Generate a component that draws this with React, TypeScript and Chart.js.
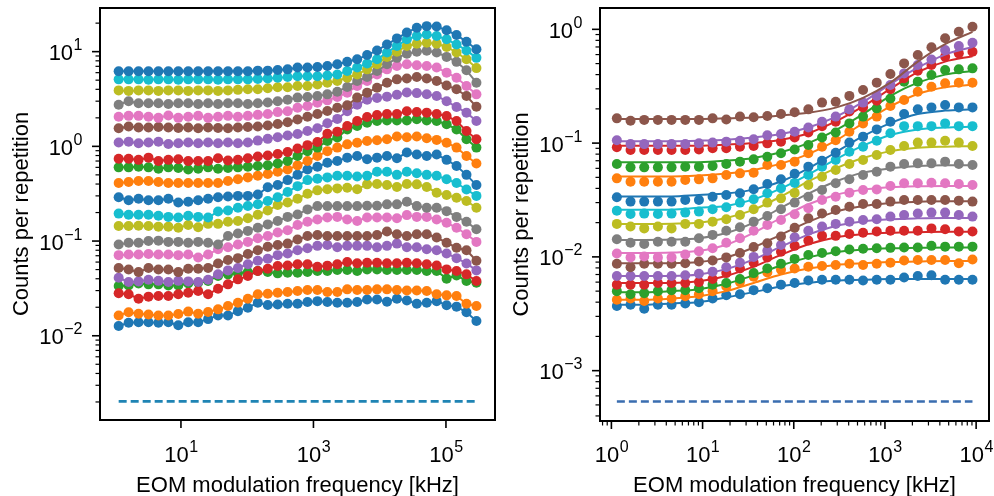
import React, { useEffect, useRef } from 'react';
import { Chart, registerables } from 'chart.js';

Chart.register(...registerables);

// ---------------- DATA ----------------
const TAB10 = ['#1f77b4', '#ff7f0e', '#2ca02c', '#d62728', '#9467bd', '#8c564b', '#e377c2', '#7f7f7f', '#bcbd22', '#17becf'];

// EOM modulation frequencies [kHz]
const freqs = [1.148, 1.622, 2.291, 3.236, 4.571, 6.457, 9.120, 12.88, 18.20, 25.70, 36.31, 51.29, 72.44, 102.3, 144.5, 204.2, 288.4, 407.4, 575.4, 812.8, 1148, 1622, 2291, 3236, 4571, 6457, 9120, 12882, 18197, 25704, 36308, 51286, 72444, 102329, 144544, 204174, 288403];
const fitFreqs = [1.148, 2.291, 4.571, 9.120, 18.20, 36.31, 72.44, 144.5, 288.4, 575.4, 1148, 2291, 4571, 9120];

// Left panel series (bottom to top)
const left00 = [0.0127, 0.0137, 0.0139, 0.0139, 0.0137, 0.0139, 0.0129, 0.0139, 0.0139, 0.0150, 0.0164, 0.0164, 0.0182, 0.0198, 0.0223, 0.0211, 0.0214, 0.0218, 0.0218, 0.0227, 0.0232, 0.0227, 0.0223, 0.0223, 0.0227, 0.0242, 0.0242, 0.0229, 0.0246, 0.0236, 0.0218, 0.0223, 0.0232, 0.0210, 0.0203, 0.0177, 0.0143];
const left01 = [0.0164, 0.0177, 0.0171, 0.0168, 0.0164, 0.0164, 0.0170, 0.0180, 0.0171, 0.0178, 0.0190, 0.0206, 0.0223, 0.0246, 0.0274, 0.0278, 0.0285, 0.0290, 0.0297, 0.0304, 0.0304, 0.0290, 0.0290, 0.0309, 0.0304, 0.0304, 0.0309, 0.0309, 0.0304, 0.0301, 0.0301, 0.0297, 0.0274, 0.0267, 0.0263, 0.0218, 0.0206];
const left02 = [0.0335, 0.0340, 0.0357, 0.0349, 0.0349, 0.0340, 0.0340, 0.0357, 0.0363, 0.0379, 0.0428, 0.0445, 0.0456, 0.0471, 0.0483, 0.0471, 0.0456, 0.0463, 0.0463, 0.0471, 0.0483, 0.0483, 0.0494, 0.0494, 0.0483, 0.0502, 0.0502, 0.0494, 0.0494, 0.0494, 0.0494, 0.0483, 0.0483, 0.0401, 0.0434, 0.0379, 0.0363];
const left03 = [0.0281, 0.0274, 0.0246, 0.0259, 0.0263, 0.0263, 0.0274, 0.0285, 0.0297, 0.0274, 0.0314, 0.0349, 0.0394, 0.0428, 0.0483, 0.0510, 0.0545, 0.0553, 0.0568, 0.0568, 0.0535, 0.0550, 0.0568, 0.0600, 0.0582, 0.0591, 0.0591, 0.0582, 0.0582, 0.0591, 0.0582, 0.0568, 0.0553, 0.0502, 0.0483, 0.0445, 0.0379];
const left04 = [0.041, 0.037, 0.0375, 0.039, 0.038, 0.037, 0.038, 0.0375, 0.037, 0.039, 0.0445, 0.049, 0.052, 0.057, 0.062, 0.065, 0.071, 0.074, 0.080, 0.084, 0.089, 0.091, 0.086, 0.089, 0.089, 0.089, 0.086, 0.089, 0.094, 0.086, 0.086, 0.082, 0.080, 0.074, 0.066, 0.058, 0.049];
const left05 = [0.052, 0.050, 0.047, 0.052, 0.050, 0.050, 0.047, 0.051, 0.051, 0.052, 0.058, 0.063, 0.066, 0.073, 0.080, 0.087, 0.091, 0.094, 0.104, 0.113, 0.116, 0.113, 0.113, 0.113, 0.113, 0.113, 0.116, 0.126, 0.118, 0.113, 0.118, 0.118, 0.109, 0.096, 0.085, 0.080, 0.062];
const left06 = [0.071, 0.072, 0.072, 0.073, 0.072, 0.072, 0.071, 0.072, 0.067, 0.072, 0.082, 0.086, 0.092, 0.098, 0.107, 0.113, 0.123, 0.130, 0.148, 0.160, 0.169, 0.177, 0.180, 0.169, 0.163, 0.177, 0.177, 0.177, 0.174, 0.188, 0.180, 0.180, 0.169, 0.156, 0.138, 0.118, 0.098];
const left07 = [0.092, 0.096, 0.096, 0.100, 0.101, 0.098, 0.098, 0.096, 0.098, 0.096, 0.092, 0.113, 0.120, 0.128, 0.138, 0.150, 0.163, 0.180, 0.191, 0.216, 0.234, 0.234, 0.234, 0.234, 0.234, 0.236, 0.236, 0.244, 0.244, 0.260, 0.234, 0.225, 0.225, 0.207, 0.180, 0.160, 0.133];
const left08 = [0.144, 0.144, 0.145, 0.144, 0.142, 0.142, 0.138, 0.148, 0.140, 0.152, 0.152, 0.160, 0.163, 0.174, 0.190, 0.210, 0.240, 0.255, 0.280, 0.316, 0.343, 0.352, 0.360, 0.366, 0.352, 0.397, 0.400, 0.390, 0.372, 0.400, 0.397, 0.372, 0.324, 0.306, 0.287, 0.265, 0.225];
const left09 = [0.195, 0.190, 0.190, 0.190, 0.185, 0.180, 0.177, 0.185, 0.180, 0.177, 0.205, 0.210, 0.225, 0.235, 0.245, 0.265, 0.290, 0.330, 0.380, 0.440, 0.455, 0.470, 0.490, 0.490, 0.480, 0.490, 0.540, 0.540, 0.500, 0.540, 0.520, 0.500, 0.490, 0.450, 0.410, 0.350, 0.300];
const left10 = [0.29, 0.27, 0.28, 0.27, 0.27, 0.28, 0.255, 0.26, 0.27, 0.28, 0.29, 0.295, 0.30, 0.30, 0.31, 0.37, 0.39, 0.44, 0.50, 0.57, 0.61, 0.67, 0.70, 0.76, 0.79, 0.73, 0.76, 0.79, 0.75, 0.86, 0.82, 0.79, 0.82, 0.72, 0.62, 0.50, 0.39];
const left11 = [0.41, 0.42, 0.43, 0.43, 0.42, 0.41, 0.41, 0.41, 0.41, 0.41, 0.41, 0.43, 0.45, 0.47, 0.49, 0.51, 0.54, 0.57, 0.63, 0.70, 0.79, 0.89, 0.97, 1.05, 1.09, 1.14, 1.16, 1.19, 1.27, 1.25, 1.27, 1.22, 1.17, 1.09, 0.97, 0.79, 0.66];
const left12 = [0.60, 0.60, 0.61, 0.60, 0.58, 0.60, 0.59, 0.57, 0.58, 0.60, 0.58, 0.59, 0.60, 0.61, 0.62, 0.63, 0.66, 0.70, 0.79, 0.89, 0.97, 1.14, 1.24, 1.51, 1.64, 1.78, 1.85, 1.88, 1.88, 1.88, 1.93, 1.88, 1.85, 1.71, 1.51, 1.19, 0.97];
const left13 = [0.74, 0.74, 0.72, 0.76, 0.70, 0.72, 0.73, 0.70, 0.70, 0.70, 0.75, 0.71, 0.72, 0.75, 0.78, 0.80, 0.83, 0.87, 0.95, 1.03, 1.11, 1.36, 1.43, 1.64, 1.85, 2.04, 2.14, 2.20, 2.20, 2.35, 2.30, 2.27, 2.20, 2.09, 1.85, 1.45, 1.19];
const left14 = [1.10, 1.12, 1.08, 1.10, 1.12, 1.06, 1.08, 1.10, 1.08, 1.10, 1.08, 1.10, 1.08, 1.10, 1.15, 1.20, 1.25, 1.30, 1.35, 1.45, 1.55, 1.75, 1.95, 2.35, 2.75, 3.10, 3.25, 3.35, 3.50, 3.70, 3.65, 3.55, 3.40, 3.00, 2.60, 2.27, 1.85];
const left15 = [1.55, 1.62, 1.58, 1.58, 1.60, 1.58, 1.56, 1.58, 1.55, 1.58, 1.56, 1.55, 1.58, 1.60, 1.62, 1.66, 1.72, 1.80, 1.92, 2.05, 2.20, 2.36, 2.56, 2.71, 3.27, 3.69, 4.16, 4.70, 5.10, 5.20, 5.40, 5.20, 4.90, 4.40, 4.00, 3.40, 2.62];
const left16 = [2.05, 2.10, 2.10, 2.05, 2.00, 2.12, 2.00, 2.05, 2.10, 2.00, 2.05, 2.10, 2.05, 2.10, 2.15, 2.20, 2.30, 2.35, 2.56, 2.67, 2.89, 3.06, 3.32, 3.69, 4.34, 4.90, 5.75, 6.50, 7.05, 7.35, 7.20, 7.05, 6.80, 6.00, 5.30, 4.34, 3.54];
const left17 = [2.75, 3.00, 2.85, 2.85, 2.85, 2.80, 2.85, 2.85, 2.80, 2.85, 2.80, 2.85, 2.85, 2.80, 2.85, 2.90, 3.00, 3.10, 3.27, 3.32, 3.40, 3.54, 3.78, 4.24, 4.90, 5.40, 6.25, 7.35, 8.60, 9.50, 10.0, 10.2, 9.80, 8.80, 7.80, 6.35, 4.70];
const left18 = [3.90, 3.85, 3.90, 3.90, 3.85, 3.90, 3.90, 3.85, 3.90, 3.90, 3.85, 3.90, 3.95, 4.00, 4.00, 4.10, 4.20, 4.20, 4.34, 4.34, 4.50, 4.70, 4.90, 5.30, 5.75, 6.50, 7.35, 8.80, 10.0, 11.5, 12.1, 12.4, 12.1, 11.2, 9.80, 8.30, 6.70];
const left19 = [5.10, 5.10, 5.10, 5.05, 5.10, 5.10, 5.05, 5.10, 5.10, 5.10, 5.05, 5.10, 5.10, 5.10, 5.15, 5.20, 5.30, 5.40, 5.50, 5.50, 5.50, 5.60, 5.75, 6.25, 6.80, 7.50, 8.30, 9.80, 11.5, 13.5, 14.6, 15.2, 14.6, 13.5, 11.9, 10.3, 8.60];
const left20 = [6.20, 6.20, 6.20, 6.20, 6.20, 6.20, 6.20, 6.20, 6.20, 6.20, 6.20, 6.20, 6.20, 6.20, 6.30, 6.30, 6.40, 6.50, 6.80, 6.80, 6.90, 7.05, 7.35, 7.80, 8.30, 9.20, 10.3, 11.9, 13.8, 15.9, 17.9, 18.6, 18.4, 16.8, 15.0, 12.7, 10.6];
const leftBackground = 2.03e-3;

// Right panel series (bottom to top), first 27 frequencies
const right00 = [0.0037, 0.0038, 0.0035, 0.0038, 0.0038, 0.0039, 0.0040, 0.0043, 0.0046, 0.0047, 0.0051, 0.0053, 0.0057, 0.0059, 0.0062, 0.0063, 0.0063, 0.0063, 0.0062, 0.0063, 0.0063, 0.0066, 0.0068, 0.0069, 0.0063, 0.0063, 0.0063];
const right01 = [0.0042, 0.0043, 0.0041, 0.0043, 0.0043, 0.0045, 0.0047, 0.0050, 0.0055, 0.0060, 0.0067, 0.0073, 0.0077, 0.0079, 0.0082, 0.0083, 0.0085, 0.0087, 0.0085, 0.0087, 0.0089, 0.0093, 0.0094, 0.0094, 0.0094, 0.0088, 0.0095];
const right02 = [0.0050, 0.0047, 0.0048, 0.0050, 0.0051, 0.0051, 0.0053, 0.0057, 0.0059, 0.0064, 0.0072, 0.0079, 0.0087, 0.0096, 0.0104, 0.0108, 0.0112, 0.0116, 0.0118, 0.0119, 0.0120, 0.0121, 0.0121, 0.0125, 0.0123, 0.0123, 0.0123];
const right03 = [0.0057, 0.0057, 0.0057, 0.0059, 0.0059, 0.0059, 0.0060, 0.0064, 0.0072, 0.0079, 0.0089, 0.0099, 0.0111, 0.0125, 0.0139, 0.0153, 0.0153, 0.0159, 0.0163, 0.0167, 0.0170, 0.0170, 0.0170, 0.0178, 0.0175, 0.0167, 0.0167];
const right04 = [0.0068, 0.0068, 0.0068, 0.0068, 0.0068, 0.0069, 0.0071, 0.0074, 0.0081, 0.0089, 0.0100, 0.0113, 0.0127, 0.0149, 0.0170, 0.0185, 0.0195, 0.0204, 0.0211, 0.0214, 0.0226, 0.0233, 0.0241, 0.0245, 0.0245, 0.0233, 0.0226];
const right05 = [0.0087, 0.0081, 0.0087, 0.0087, 0.0087, 0.0088, 0.0091, 0.0093, 0.0099, 0.0108, 0.0122, 0.0132, 0.0151, 0.0180, 0.0218, 0.0241, 0.0258, 0.0276, 0.0292, 0.0292, 0.0306, 0.0316, 0.0316, 0.0316, 0.0316, 0.0312, 0.0306];
const right06 = [0.0107, 0.0099, 0.0101, 0.0099, 0.0099, 0.0105, 0.0112, 0.0119, 0.0133, 0.0146, 0.0170, 0.0191, 0.0211, 0.0237, 0.0268, 0.0316, 0.0338, 0.0367, 0.0387, 0.0392, 0.0420, 0.0443, 0.0443, 0.0449, 0.0443, 0.0437, 0.0428];
const right07 = [0.0143, 0.0133, 0.0130, 0.0136, 0.0136, 0.0136, 0.0146, 0.0156, 0.0170, 0.0182, 0.0204, 0.0229, 0.0262, 0.0300, 0.0338, 0.0387, 0.0443, 0.0481, 0.0524, 0.0561, 0.0621, 0.0655, 0.0664, 0.0664, 0.0687, 0.0655, 0.0642];
const right08 = [0.0195, 0.0185, 0.0178, 0.0185, 0.0178, 0.0195, 0.0195, 0.0204, 0.0214, 0.0233, 0.0262, 0.0300, 0.0327, 0.0365, 0.0429, 0.0507, 0.0580, 0.0655, 0.0711, 0.0786, 0.0870, 0.0944, 0.1010, 0.1010, 0.1050, 0.1010, 0.0944];
const right09 = [0.0255, 0.0238, 0.0240, 0.0238, 0.0240, 0.0245, 0.0250, 0.0262, 0.0273, 0.0300, 0.0321, 0.0362, 0.0401, 0.0447, 0.0524, 0.0621, 0.0711, 0.0841, 0.0930, 0.105, 0.122, 0.141, 0.141, 0.141, 0.149, 0.141, 0.141];
const right10 = [0.0334, 0.0306, 0.0306, 0.0306, 0.0306, 0.0316, 0.0316, 0.0338, 0.0350, 0.0362, 0.0393, 0.0437, 0.0481, 0.0538, 0.0621, 0.0701, 0.0824, 0.101, 0.114, 0.132, 0.154, 0.180, 0.198, 0.206, 0.216, 0.206, 0.206];
const right11 = [0.0490, 0.0458, 0.0458, 0.0458, 0.0458, 0.0474, 0.0480, 0.0490, 0.0524, 0.0542, 0.0550, 0.0642, 0.0642, 0.0687, 0.0813, 0.0930, 0.106, 0.126, 0.149, 0.171, 0.212, 0.239, 0.283, 0.313, 0.335, 0.339, 0.339];
const right12 = [0.0655, 0.0612, 0.0612, 0.0612, 0.0612, 0.0620, 0.0620, 0.0630, 0.0655, 0.0687, 0.0720, 0.0760, 0.0813, 0.0878, 0.0962, 0.112, 0.124, 0.149, 0.171, 0.202, 0.247, 0.347, 0.347, 0.397, 0.439, 0.445, 0.454];
const right13 = [0.0918, 0.0870, 0.0870, 0.0870, 0.0870, 0.0870, 0.0880, 0.0900, 0.0900, 0.0930, 0.0945, 0.0995, 0.103, 0.112, 0.124, 0.141, 0.154, 0.190, 0.206, 0.236, 0.297, 0.371, 0.433, 0.485, 0.574, 0.615, 0.636];
const right14 = [0.106, 0.098, 0.098, 0.098, 0.098, 0.098, 0.0995, 0.101, 0.103, 0.105, 0.108, 0.117, 0.120, 0.126, 0.137, 0.154, 0.171, 0.198, 0.227, 0.260, 0.324, 0.410, 0.485, 0.544, 0.658, 0.713, 0.763];
const right15 = [0.165, 0.157, 0.160, 0.160, 0.160, 0.160, 0.160, 0.165, 0.161, 0.171, 0.169, 0.173, 0.180, 0.187, 0.198, 0.227, 0.231, 0.260, 0.293, 0.340, 0.405, 0.502, 0.594, 0.695, 0.834, 0.953, 1.055];
const rightBackground = 5.35e-4;

// Right panel fitted curves (at fitFreqs)
const fit00 = [0.0038, 0.0038, 0.0039, 0.0040, 0.0044, 0.0049, 0.0055, 0.0059, 0.0062, 0.0063, 0.0064, 0.0064, 0.0064, 0.0064];
const fit01 = [0.0042, 0.0042, 0.0043, 0.0045, 0.0050, 0.0059, 0.0070, 0.0079, 0.0085, 0.0088, 0.0090, 0.0091, 0.0092, 0.0092];
const fit02 = [0.0049, 0.0049, 0.0050, 0.0052, 0.0058, 0.0069, 0.0084, 0.0099, 0.0110, 0.0116, 0.0119, 0.0120, 0.0121, 0.0121];
const fit03 = [0.0059, 0.0059, 0.0059, 0.0061, 0.0068, 0.0082, 0.0104, 0.0129, 0.0148, 0.0158, 0.0163, 0.0165, 0.0166, 0.0166];
const fit04 = [0.0068, 0.0068, 0.0068, 0.0070, 0.0078, 0.0095, 0.0123, 0.0157, 0.0187, 0.0205, 0.0214, 0.0218, 0.0220, 0.0220];
const fit05 = [0.0088, 0.0088, 0.0088, 0.0090, 0.0099, 0.0121, 0.0157, 0.0203, 0.0250, 0.0280, 0.0298, 0.0305, 0.0308, 0.0308];
const fit06 = [0.0108, 0.0108, 0.0109, 0.0113, 0.0128, 0.0163, 0.0220, 0.0290, 0.0350, 0.0390, 0.0410, 0.0418, 0.0420, 0.0420];
const fit07 = [0.0141, 0.0141, 0.0142, 0.0146, 0.0162, 0.0200, 0.0270, 0.0360, 0.0460, 0.0550, 0.0600, 0.0630, 0.0640, 0.0640];
const fit08 = [0.0195, 0.0195, 0.0196, 0.0200, 0.0220, 0.0260, 0.0340, 0.0460, 0.0600, 0.0740, 0.0850, 0.0910, 0.0930, 0.0940];
const fit09 = [0.026, 0.026, 0.026, 0.027, 0.028, 0.032, 0.040, 0.053, 0.072, 0.095, 0.118, 0.132, 0.137, 0.139];
const fit10 = [0.034, 0.034, 0.034, 0.035, 0.036, 0.039, 0.046, 0.060, 0.083, 0.115, 0.150, 0.180, 0.193, 0.198];
const fit11 = [0.051, 0.051, 0.051, 0.052, 0.054, 0.058, 0.066, 0.080, 0.105, 0.150, 0.210, 0.270, 0.310, 0.325];
const fit12 = [0.068, 0.068, 0.068, 0.068, 0.070, 0.074, 0.083, 0.100, 0.130, 0.180, 0.260, 0.340, 0.400, 0.430];
const fit13 = [0.095, 0.095, 0.095, 0.095, 0.097, 0.100, 0.107, 0.122, 0.155, 0.210, 0.300, 0.420, 0.520, 0.580];
const fit14 = [0.104, 0.104, 0.104, 0.105, 0.107, 0.112, 0.120, 0.137, 0.170, 0.230, 0.330, 0.460, 0.600, 0.700];
const fit15 = [0.163, 0.163, 0.163, 0.163, 0.165, 0.168, 0.175, 0.185, 0.205, 0.250, 0.340, 0.520, 0.740, 0.950];

const leftSeries = [left00, left01, left02, left03, left04, left05, left06, left07, left08, left09, left10, left11, left12, left13, left14, left15, left16, left17, left18, left19, left20];
const rightSeries = [right00, right01, right02, right03, right04, right05, right06, right07, right08, right09, right10, right11, right12, right13, right14, right15];
const rightFits = [fit00, fit01, fit02, fit03, fit04, fit05, fit06, fit07, fit08, fit09, fit10, fit11, fit12, fit13, fit14, fit15];

// Axis ticks
const leftXMajor = [10, 1000, 100000];
const leftYMajor = [0.01, 0.1, 1, 10];
const rightXMajor = [1, 10, 100, 1000, 10000];
const rightYMajor = [0.001, 0.01, 0.1, 1];

const X_TITLE = 'EOM modulation frequency [kHz]';
const Y_TITLE = 'Counts per repetition';

// ---------------- DRAWING HELPERS ----------------
const FONT_FAMILY = '"Liberation Sans", Arial, Helvetica, sans-serif';
const TICK_FONT = 22;
const TITLE_FONT = 22;
const EXP_FONT = 16;
const EXP_RAISE = 10;
const POINT_R = 5;

function minorTicks(lo: number, hi: number): number[] {
  const out: number[] = [];
  for (let e = Math.floor(Math.log10(lo)) - 1; e <= Math.ceil(Math.log10(hi)); e++) {
    for (let m = 2; m <= 9; m++) {
      const v = m * Math.pow(10, e);
      if (v >= lo && v <= hi) out.push(v);
    }
  }
  return out;
}

function expLabel(v: number): string {
  const e = Math.round(Math.log10(v));
  return e < 0 ? '\u2212' + Math.abs(e) : String(e);
}

function drawPow(ctx: CanvasRenderingContext2D, v: number, x: number, baseline: number, align: 'center' | 'right') {
  const exp = expLabel(v);
  ctx.font = `${TICK_FONT}px ${FONT_FAMILY}`;
  const wb = ctx.measureText('10').width;
  ctx.font = `${EXP_FONT}px ${FONT_FAMILY}`;
  const we = ctx.measureText(exp).width;
  const total = wb + we;
  const x0 = align === 'center' ? x - total / 2 : x - total;
  ctx.textAlign = 'left';
  ctx.textBaseline = 'alphabetic';
  ctx.font = `${TICK_FONT}px ${FONT_FAMILY}`;
  ctx.fillText('10', x0, baseline);
  ctx.font = `${EXP_FONT}px ${FONT_FAMILY}`;
  ctx.fillText(exp, x0 + wb + 0.5, baseline - EXP_RAISE);
}

function makeAxesPlugin(opts: { xMajor: number[]; yMajor: number[]; xMinor: boolean; yMinor: boolean }) {
  return {
    id: 'mplAxes',
    afterDraw(chart: any) {
      const ctx: CanvasRenderingContext2D = chart.ctx;
      const { left, right, top, bottom } = chart.chartArea;
      const xs = chart.scales.x;
      const ys = chart.scales.y;
      ctx.save();
      ctx.fillStyle = '#000';
      ctx.strokeStyle = '#000';
      // spines
      ctx.lineWidth = 2;
      ctx.strokeRect(left, top, right - left, bottom - top);
      // x ticks
      ctx.lineWidth = 1.6;
      for (const v of opts.xMajor) {
        const px = xs.getPixelForValue(v);
        ctx.beginPath();
        ctx.moveTo(px, bottom);
        ctx.lineTo(px, bottom + 8);
        ctx.stroke();
      }
      if (opts.xMinor) {
        ctx.lineWidth = 1.2;
        for (const v of minorTicks(xs.min, xs.max)) {
          const px = xs.getPixelForValue(v);
          ctx.beginPath();
          ctx.moveTo(px, bottom);
          ctx.lineTo(px, bottom + 4.5);
          ctx.stroke();
        }
      }
      // y ticks
      ctx.lineWidth = 1.6;
      for (const v of opts.yMajor) {
        const py = ys.getPixelForValue(v);
        ctx.beginPath();
        ctx.moveTo(left, py);
        ctx.lineTo(left - 8, py);
        ctx.stroke();
      }
      if (opts.yMinor) {
        ctx.lineWidth = 1.2;
        for (const v of minorTicks(ys.min, ys.max)) {
          const py = ys.getPixelForValue(v);
          ctx.beginPath();
          ctx.moveTo(left, py);
          ctx.lineTo(left - 4.5, py);
          ctx.stroke();
        }
      }
      // tick labels
      for (const v of opts.xMajor) {
        drawPow(ctx, v, xs.getPixelForValue(v), 462, 'center');
      }
      for (const v of opts.yMajor) {
        drawPow(ctx, v, left - 18, ys.getPixelForValue(v) + 8.5, 'right');
      }
      // titles
      ctx.font = `${TITLE_FONT}px ${FONT_FAMILY}`;
      ctx.textAlign = 'center';
      ctx.textBaseline = 'alphabetic';
      ctx.fillText(X_TITLE, (left + right) / 2, 492);
      ctx.save();
      ctx.translate(28, (top + bottom) / 2);
      ctx.rotate(-Math.PI / 2);
      ctx.fillText(Y_TITLE, 0, 0);
      ctx.restore();
      ctx.restore();
    },
  };
}

function baseOptions(xMin: number, xMax: number, yMin: number, yMax: number, xHeight: number, padRight: number) {
  return {
    animation: false,
    responsive: false,
    events: [],
    layout: { padding: { top: 8, right: padRight, left: 0, bottom: 0 } },
    plugins: { legend: { display: false }, tooltip: { enabled: false }, title: { display: false } },
    scales: {
      x: {
        type: 'logarithmic',
        position: 'bottom',
        min: xMin,
        max: xMax,
        grid: { display: false, drawTicks: false },
        border: { display: false },
        ticks: { display: false },
        afterFit: (s: any) => { s.height = xHeight; },
      },
      y: {
        type: 'logarithmic',
        position: 'left',
        min: yMin,
        max: yMax,
        grid: { display: false, drawTicks: false },
        border: { display: false },
        ticks: { display: false },
        afterFit: (s: any) => { s.width = 100; },
      },
    },
  };
}

function leftConfig(): any {
  const datasets: any[] = [];
  leftSeries.forEach((vals, k) => {
    const c = TAB10[k % 10];
    datasets.push({
      data: vals.map((y, i) => ({ x: freqs[i], y })),
      showLine: true,
      borderColor: c,
      backgroundColor: c,
      pointBackgroundColor: c,
      borderWidth: 2,
      pointRadius: POINT_R,
      pointHoverRadius: POINT_R,
      pointBorderWidth: 0,
      tension: 0,
      order: -k,
    });
  });
  datasets.push({
    data: [{ x: freqs[0], y: leftBackground }, { x: freqs[freqs.length - 1], y: leftBackground }],
    showLine: true,
    borderColor: '#1f84b4',
    borderWidth: 2.6,
    borderDash: [8, 4],
    pointRadius: 0,
    order: 10,
  });
  return { type: 'scatter', data: { datasets }, options: baseOptions(0.631, 5.5e5, 1.29e-3, 28.9, 76, 3), plugins: [makeAxesPlugin({ xMajor: leftXMajor, yMajor: leftYMajor, xMinor: false, yMinor: true })] };
}

function rightConfig(): any {
  const datasets: any[] = [];
  rightSeries.forEach((vals, k) => {
    const c = TAB10[k % 10];
    datasets.push({
      data: vals.map((y, i) => ({ x: freqs[i], y })),
      showLine: false,
      borderColor: c,
      backgroundColor: c,
      pointBackgroundColor: c,
      pointRadius: POINT_R,
      pointHoverRadius: POINT_R,
      pointBorderWidth: 0,
      order: -(2 * k),
    });
    datasets.push({
      data: rightFits[k].map((y, i) => ({ x: fitFreqs[i], y })),
      showLine: true,
      borderColor: c,
      backgroundColor: c,
      borderWidth: 2,
      pointRadius: 0,
      pointHoverRadius: 0,
      cubicInterpolationMode: 'monotone',
      order: -(2 * k + 1),
    });
  });
  datasets.push({
    data: [{ x: freqs[0], y: rightBackground }, { x: freqs[26], y: rightBackground }],
    showLine: true,
    borderColor: '#3a6db0',
    borderWidth: 2.6,
    borderDash: [8, 4],
    pointRadius: 0,
    order: 10,
  });
  return { type: 'scatter', data: { datasets }, options: baseOptions(0.75, 13840, 3.61e-4, 1.54, 75, 2), plugins: [makeAxesPlugin({ xMajor: rightXMajor, yMajor: rightYMajor, xMinor: true, yMinor: true })] };
}

export default function App() {
  const leftRef = useRef<HTMLCanvasElement | null>(null);
  const rightRef = useRef<HTMLCanvasElement | null>(null);

  useEffect(() => {
    const c1 = new Chart(leftRef.current as HTMLCanvasElement, leftConfig());
    const c2 = new Chart(rightRef.current as HTMLCanvasElement, rightConfig());
    return () => {
      c1.destroy();
      c2.destroy();
    };
  }, []);

  return (
    <div style={{ position: 'fixed', left: 0, top: 0, width: 994, height: 496, background: '#fff', overflow: 'hidden' }}>
      <canvas ref={leftRef} width={500} height={496} style={{ position: 'absolute', left: 0, top: 0, width: 500, height: 496 }} />
      <canvas ref={rightRef} width={494} height={496} style={{ position: 'absolute', left: 500, top: 0, width: 494, height: 496 }} />
    </div>
  );
}
